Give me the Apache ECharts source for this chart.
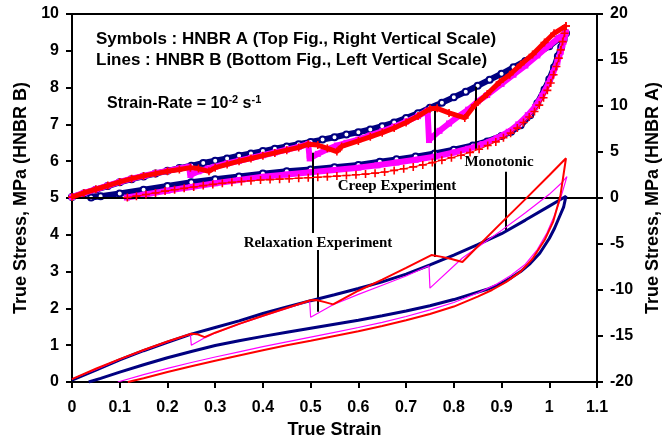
<!DOCTYPE html>
<html><head><meta charset="utf-8">
<script src="https://cdn.jsdelivr.net/npm/echarts/dist/echarts.min.js"></script>
<style>html,body{margin:0;padding:0;background:#fff}#c{width:670px;height:438px}</style>
</head><body><div id="c"></div>
<script>
// ---------- Axis definitions ----------
const xRange = [0, 1.1], xStep = 0.1;
const yLeftRange = [0, 10], yLeftStep = 1;     // HNBR B (lines)
const yRightRange = [-20, 20], yRightStep = 5; // HNBR A (symbols)

// ---------- Bottom figure: lines, HNBR B, left scale [strain, stress] ----------
const linesMonotonic = [
[0,0.05],[0.05,0.32],[0.1,0.6],[0.15,0.85],[0.2,1.08],[0.25,1.3],[0.3,1.48],[0.35,1.66],[0.4,1.86],[0.45,2.04],[0.5,2.21],[0.55,2.37],[0.6,2.54],[0.65,2.72],[0.7,2.93],[0.75,3.18],[0.8,3.45],[0.85,3.73],[0.9,4.03],[0.95,4.4],[1.0,4.78],[1.02,4.93],[1.035,5.05],
[1.03,4.75],[1.02,4.45],[1.01,4.15],[1.0,3.9],[0.98,3.5],[0.96,3.22],[0.94,3.0],[0.92,2.83],[0.9,2.68],[0.87,2.52],[0.84,2.4],[0.8,2.24],[0.75,2.07],[0.7,1.93],[0.65,1.8],[0.6,1.68],[0.55,1.57],[0.5,1.46],[0.45,1.35],[0.4,1.24],[0.35,1.12],[0.3,0.99],[0.25,0.83],[0.2,0.66],[0.15,0.47],[0.1,0.27],[0.06,0.1],[0.035,0]];
const linesCreep = [
[0,0.08],[0.05,0.36],[0.1,0.62],[0.15,0.87],[0.2,1.1],[0.25,1.31],[0.262,1.3],[0.278,1.22],[0.3,1.34],[0.35,1.58],[0.4,1.8],[0.45,2.01],[0.5,2.22],[0.512,2.23],[0.53,2.17],[0.547,2.11],[0.6,2.48],[0.65,2.78],[0.7,3.1],[0.753,3.45],[0.775,3.4],[0.795,3.34],[0.818,3.26],[0.85,3.68],[0.9,4.33],[0.95,4.97],[1.0,5.62],[1.035,6.08],
[1.023,5.04],[1.008,4.35],[0.99,3.85],[0.965,3.35],[0.94,3.0],[0.91,2.72],[0.88,2.5],[0.85,2.32],[0.8,2.05],[0.75,1.85],[0.7,1.68],[0.65,1.52],[0.6,1.38],[0.55,1.25],[0.5,1.12],[0.45,1.0],[0.4,0.86],[0.35,0.72],[0.3,0.58],[0.25,0.43],[0.2,0.27],[0.15,0.1],[0.117,0]];
const linesRelaxation = [
[0,0.08],[0.05,0.34],[0.1,0.61],[0.15,0.86],[0.2,1.09],[0.248,1.3],[0.25,1.0],[0.278,1.2],[0.3,1.33],[0.35,1.57],[0.4,1.79],[0.45,2.0],[0.498,2.2],[0.5,1.76],[0.547,2.1],[0.6,2.38],[0.65,2.63],[0.7,2.88],[0.748,3.16],[0.75,2.55],[0.818,3.37],[0.85,3.66],[0.9,4.12],[0.95,4.6],[1.0,5.1],[1.025,5.4],[1.037,5.58],
[1.028,5.18],[1.02,4.85],[1.01,4.5],[0.995,4.05],[0.975,3.6],[0.95,3.2],[0.92,2.9],[0.89,2.66],[0.85,2.42],[0.8,2.16],[0.75,1.96],[0.7,1.78],[0.65,1.62],[0.6,1.48],[0.55,1.35],[0.5,1.22],[0.45,1.09],[0.4,0.96],[0.35,0.82],[0.3,0.68],[0.25,0.53],[0.2,0.37],[0.15,0.2],[0.096,0]];

// ---------- Top figure: symbols, HNBR A, right scale [strain, stress] ----------
const symMonotonic = [
[0,0.1],[0.025,0.5],[0.05,0.9],[0.075,1.3],[0.1,1.7],[0.125,2.05],[0.15,2.35],[0.175,2.65],[0.2,2.95],[0.225,3.25],[0.25,3.5],[0.275,3.8],[0.3,4.05],[0.325,4.3],[0.35,4.6],[0.375,4.85],[0.4,5.1],[0.425,5.35],[0.45,5.6],[0.475,5.85],[0.5,6.1],[0.525,6.35],[0.55,6.6],[0.575,6.9],[0.6,7.15],[0.625,7.45],[0.65,7.8],[0.675,8.2],[0.7,8.7],[0.725,9.2],[0.75,9.8],[0.775,10.35],[0.8,10.95],[0.825,11.55],[0.85,12.2],[0.875,12.85],[0.9,13.5],[0.925,14.2],[0.95,14.9],[0.975,15.7],[1.0,16.5],[1.02,17.3],[1.035,17.9],
[1.03,17.2],[1.025,16.4],[1.018,15.4],[1.01,14.2],[1.0,12.9],[0.99,11.8],[0.975,10.3],[0.96,9.0],[0.94,7.9],[0.92,7.2],[0.9,6.75],[0.87,6.15],[0.84,5.72],[0.8,5.25],[0.76,4.85],[0.72,4.5],[0.68,4.2],[0.645,3.95],[0.6,3.6],[0.55,3.35],[0.5,3.1],[0.45,2.9],[0.4,2.65],[0.35,2.35],[0.3,2.05],[0.25,1.72],[0.2,1.3],[0.15,0.9],[0.1,0.5],[0.06,0.2],[0.04,0.05]];
const symCreepLoading = [
[0,0.1],[0.025,0.55],[0.05,0.95],[0.075,1.35],[0.1,1.75],[0.125,2.1],[0.15,2.4],[0.175,2.65],[0.2,2.9],[0.225,3.1],[0.248,3.3],[0.265,3.2],[0.287,2.9],[0.3,3.3],[0.325,3.65],[0.35,4.0],[0.375,4.3],[0.4,4.6],[0.425,4.9],[0.45,5.2],[0.475,5.5],[0.495,5.85],[0.515,5.75],[0.535,5.4],[0.555,5.05],[0.565,5.6],[0.6,6.2],[0.625,6.65],[0.65,7.1],[0.675,7.6],[0.7,8.2],[0.725,8.9],[0.75,9.7],[0.765,9.75],[0.79,9.25],[0.823,8.7],[0.844,10.1],[0.87,11.3],[0.896,12.6],[0.917,13.4],[0.94,14.5],[0.965,15.6],[0.99,16.9],[1.01,17.9],[1.035,18.7]];
const symCreepUnloading = [
[1.035,18.7],[1.032,17.9],[1.028,17.0],[1.024,16.1],[1.02,15.2],[1.015,14.3],[1.009,13.4],[1.003,12.5],[0.996,11.7],[0.988,10.9],[0.979,10.1],[0.969,9.4],[0.958,8.8],[0.946,8.2],[0.933,7.6],[0.919,7.05],[0.904,6.55],[0.888,6.1],[0.871,5.7],[0.853,5.3],[0.834,4.95],[0.815,4.65],[0.795,4.38],[0.775,4.1],[0.755,3.85],[0.735,3.6],[0.715,3.38],[0.695,3.18],[0.675,3.0],[0.655,2.82],[0.635,2.7],[0.615,2.6],[0.595,2.52],[0.575,2.45],[0.555,2.38],[0.535,2.32],[0.515,2.26],[0.495,2.2],[0.475,2.15],[0.455,2.1],[0.435,2.05],[0.415,2.0],[0.395,1.95],[0.375,1.88],[0.355,1.8],[0.335,1.7],[0.315,1.6],[0.295,1.48],[0.275,1.35],[0.255,1.2],[0.235,1.05],[0.215,0.9],[0.195,0.75],[0.175,0.55],[0.155,0.38],[0.135,0.2],[0.116,0.05]];
const symRelaxation = [
[0,0.1],[0.025,0.55],[0.05,0.95],[0.075,1.35],[0.1,1.75],[0.125,2.1],[0.15,2.4],[0.175,2.7],[0.2,2.95],[0.225,3.2],[0.245,3.4],[0.248,2.5],[0.265,2.9],[0.285,3.2],[0.3,3.4],[0.325,3.75],[0.35,4.05],[0.375,4.35],[0.4,4.65],[0.425,4.95],[0.45,5.25],[0.475,5.55],[0.495,5.85],[0.498,4.3],[0.515,4.8],[0.535,5.3],[0.555,5.7],[0.575,6.0],[0.6,6.35],[0.625,6.8],[0.65,7.25],[0.675,7.75],[0.7,8.3],[0.725,8.9],[0.745,9.5],[0.748,6.3],[0.77,7.3],[0.79,8.1],[0.81,8.9],[0.83,9.6],[0.85,10.5],[0.87,11.2],[0.9,12.4],[0.925,13.4],[0.95,14.4],[0.975,15.5],[1.0,16.6],[1.02,17.4],[1.035,18.0],
[1.03,17.0],[1.024,15.9],[1.017,14.8],[1.008,13.6],[0.998,12.4],[0.985,11.1],[0.97,9.9],[0.955,9.0],[0.935,8.0],[0.915,7.2],[0.89,6.5],[0.86,5.85],[0.83,5.35],[0.8,4.95],[0.76,4.5],[0.72,4.15],[0.68,3.85],[0.64,3.55],[0.6,3.3],[0.55,3.05],[0.5,2.8],[0.45,2.55],[0.4,2.3],[0.35,1.95],[0.3,1.6],[0.25,1.2],[0.2,0.8],[0.15,0.35],[0.115,0.05]];

// ---------- Annotation pointer lines (left-scale data coords) ----------
const pointerLines = [
  [[0.505,6.23],[0.505,4.05]],  // relaxation (upper)
  [[0.515,3.59],[0.515,1.91]],  // relaxation (lower)
  [[0.76,7.45],[0.76,3.4]],     // creep
  [[0.846,8.02],[0.846,6.31]],  // monotonic (upper)
  [[0.909,5.71],[0.909,4.08]]   // monotonic (lower)
];
const zeroLineLeft = 5; // right-scale 0

const NAVY = '#000080', RED = '#FF0000', MAG = '#FF00FF';
const SANS = '"Liberation Sans", Arial, sans-serif';
const SERIF = '"Liberation Serif", "Times New Roman", serif';
const PLUS = 'path://M4,0H6V4H10V6H6V10H4V6H0V4H4Z';

const chart = echarts.init(document.getElementById('c'), null, {renderer: 'canvas'});

const axisCommon = {
  axisLine: {show: true, lineStyle: {color: '#000', width: 2}},
  axisTick: {show: true, inside: false, length: 6, lineStyle: {color: '#000', width: 2}},
  splitLine: {show: false},
  axisLabel: {color: '#000', fontFamily: SANS, fontWeight: 'bold', fontSize: 16},
  nameTextStyle: {color: '#000', fontFamily: SANS, fontWeight: 'bold', fontSize: 18}
};

function line(name, data, color, width, yIdx, z) {
  return {name, type: 'line', data, yAxisIndex: yIdx, showSymbol: false, symbol: 'none',
    lineStyle: {color, width}, itemStyle: {color}, z, animation: false, silent: true};
}

const option = {
  animation: false,
  backgroundColor: '#fff',
  grid: {left: 72, right: 73, top: 14, bottom: 56, containLabel: false, outerBoundsMode: 'none',
         show: true, borderColor: '#000', borderWidth: 2, backgroundColor: 'transparent'},
  xAxis: Object.assign({}, axisCommon, {
    type: 'value', min: xRange[0], max: xRange[1], interval: xStep,
    name: 'True Strain', nameLocation: 'middle', nameGap: 38,
    axisLabel: Object.assign({}, axisCommon.axisLabel, {margin: 18, formatter: v => String(+v.toFixed(1))})
  }),
  yAxis: [
    Object.assign({}, axisCommon, {
      type: 'value', position: 'left', min: yLeftRange[0], max: yLeftRange[1], interval: yLeftStep,
      name: 'True Stress, MPa (HNBR B)', nameLocation: 'middle', nameRotate: 90, nameGap: 33,
      axisLabel: Object.assign({}, axisCommon.axisLabel, {margin: 13})
    }),
    Object.assign({}, axisCommon, {
      type: 'value', position: 'right', min: yRightRange[0], max: yRightRange[1], interval: yRightStep,
      name: 'True Stress, MPa (HNBR A)', nameLocation: 'middle', nameRotate: 90, nameGap: 42,
      axisLabel: Object.assign({}, axisCommon.axisLabel, {margin: 13})
    })
  ],
  series: [
    // top symbols
    {type: 'line', data: symMonotonic, yAxisIndex: 1, z: 3, showAllSymbol: true,
     symbol: 'emptyCircle', symbolSize: 6,
     lineStyle: {color: NAVY, width: 6}, itemStyle: {color: NAVY, borderColor: NAVY, borderWidth: 1.6}},
    {type: 'line', data: symRelaxation, yAxisIndex: 1, z: 4, showAllSymbol: true,
     symbol: 'rect', symbolSize: 6,
     lineStyle: {color: MAG, width: 6}, itemStyle: {color: MAG}},
    {type: 'line', data: symCreepLoading, yAxisIndex: 1, z: 5, showAllSymbol: true,
     symbol: PLUS, symbolSize: 8,
     lineStyle: {color: RED, width: 5}, itemStyle: {color: RED}},
    {type: 'line', data: symCreepUnloading, yAxisIndex: 1, z: 5, showAllSymbol: true,
     symbol: PLUS, symbolSize: 8,
     lineStyle: {color: RED, width: 1}, itemStyle: {color: RED}},
    // bottom lines
    line('mono', linesMonotonic, NAVY, 3, 0, 6),
    line('relax', linesRelaxation, MAG, 1.2, 0, 7),
    line('creep', linesCreep, RED, 2, 0, 8),
    // zero line + pointers
    {type: 'line', data: [], yAxisIndex: 0, z: 9,
     markLine: {silent: true, symbol: ['none', 'none'], animation: false,
       label: {show: false}, lineStyle: {color: '#000', width: 2, type: 'solid'},
       data: [{yAxis: zeroLineLeft}].concat(pointerLines.map(p => [{coord: p[0]}, {coord: p[1]}]))}}
  ],
  graphic: [
    {type: 'text', left: 96, top: 31, z: 100, style: {text: 'Symbols : HNBR A (Top Fig., Right Vertical Scale)', font: 'bold 17px ' + SANS, fill: '#000'}},
    {type: 'text', left: 96, top: 52, z: 100, style: {text: 'Lines : HNBR B (Bottom Fig., Left Vertical Scale)', font: 'bold 17px ' + SANS, fill: '#000'}},
    {type: 'text', left: 107, top: 94, z: 100, style: {
      text: '{a|Strain-Rate = 10}{s|-2}{a| s}{s|-1}',
      rich: {a: {font: 'bold 16px ' + SANS, fill: '#000', lineHeight: 20},
             s: {font: 'bold 11px ' + SANS, fill: '#000', verticalAlign: 'top', lineHeight: 20}}}},
    {type: 'text', x: 499, y: 162, z: 100, style: {text: 'Monotonic', font: 'bold 15px ' + SERIF, fill: '#000', align: 'center', verticalAlign: 'middle'}},
    {type: 'text', x: 397, y: 186, z: 100, style: {text: 'Creep Experiment', font: 'bold 15px ' + SERIF, fill: '#000', align: 'center', verticalAlign: 'middle'}},
    {type: 'text', x: 318, y: 243, z: 100, style: {text: 'Relaxation Experiment', font: 'bold 15px ' + SERIF, fill: '#000', align: 'center', verticalAlign: 'middle'}}
  ]
};
chart.setOption(option);
</script>
</body></html>
